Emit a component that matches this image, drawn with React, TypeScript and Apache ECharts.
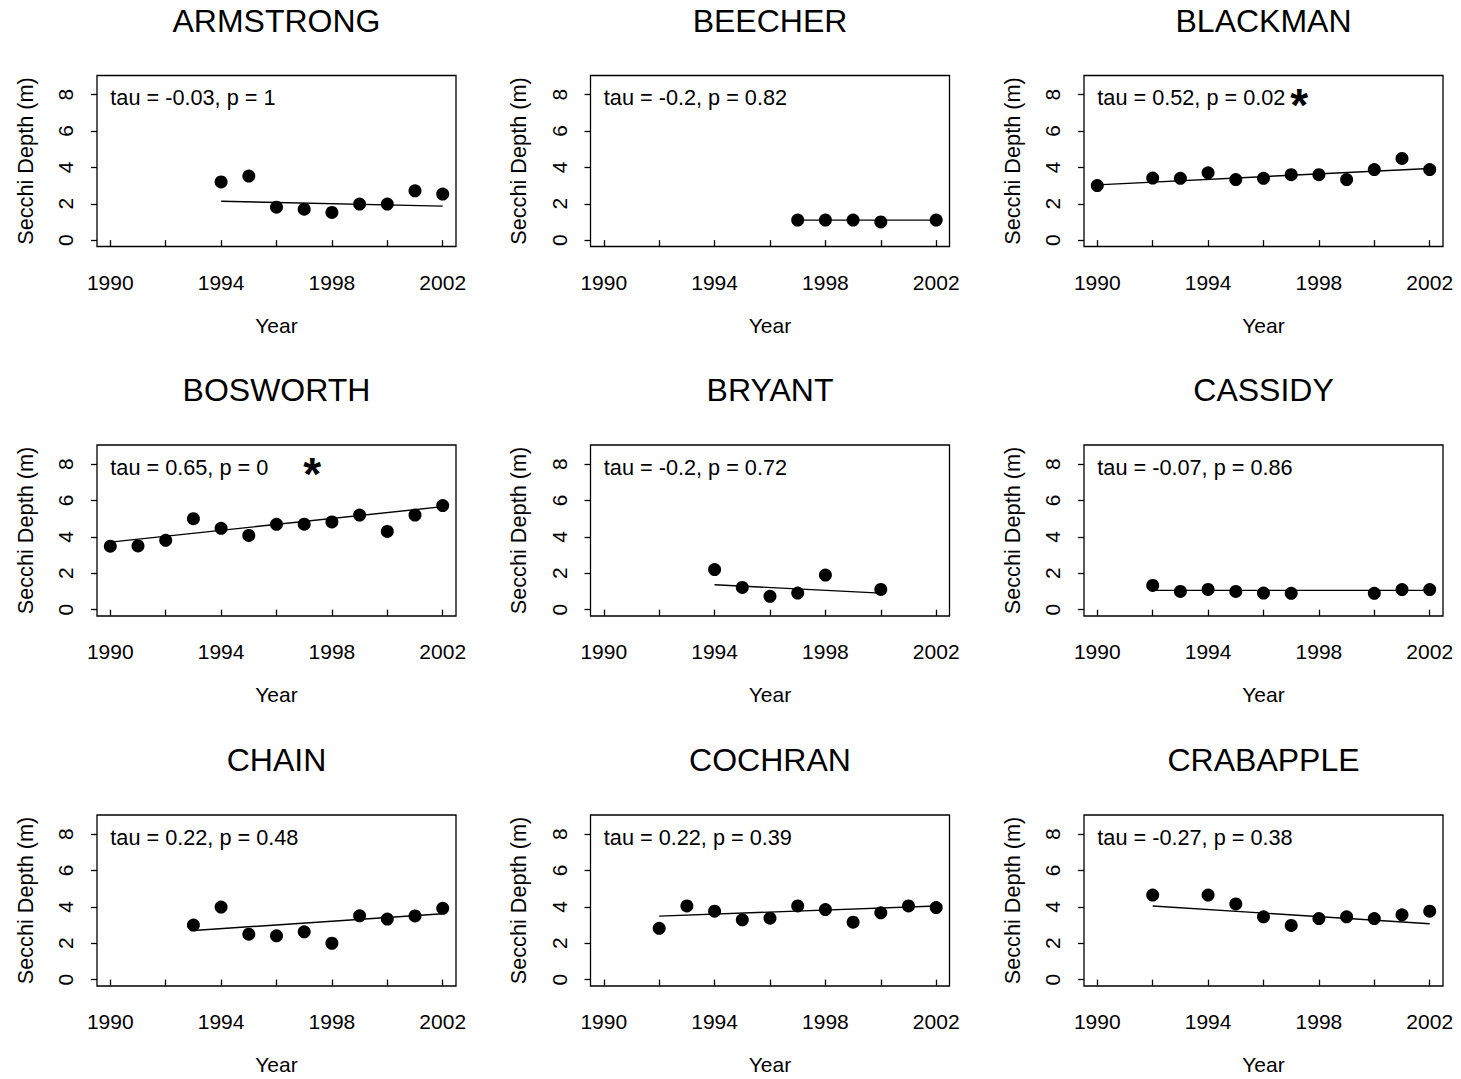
import React, { useEffect, useRef } from "react";
import * as echarts from "echarts";

const lakeNames = ["ARMSTRONG", "BEECHER", "BLACKMAN", "BOSWORTH", "BRYANT", "CASSIDY", "CHAIN", "COCHRAN", "CRABAPPLE"];
const tauLabels = [
  "tau = -0.03, p = 1",
  "tau = -0.2, p = 0.82",
  "tau = 0.52, p = 0.02",
  "tau = 0.65, p = 0",
  "tau = -0.2, p = 0.72",
  "tau = -0.07, p = 0.86",
  "tau = 0.22, p = 0.48",
  "tau = 0.22, p = 0.39",
  "tau = -0.27, p = 0.38",
];
const significant = [false, false, true, true, false, false, false, false, false];

const armstrongYears = [1994, 1995, 1996, 1997, 1998, 1999, 2000, 2001, 2002];
const armstrongDepth = [3.2, 3.52, 1.81, 1.7, 1.52, 1.98, 1.98, 2.71, 2.53];
const beecherYears = [1997, 1998, 1999, 2000, 2002];
const beecherDepth = [1.1, 1.1, 1.1, 1.0, 1.1];
const blackmanYears = [1990, 1992, 1993, 1994, 1995, 1996, 1997, 1998, 1999, 2000, 2001, 2002];
const blackmanDepth = [3.0, 3.41, 3.4, 3.7, 3.33, 3.4, 3.6, 3.6, 3.33, 3.88, 4.49, 3.88];
const bosworthYears = [1990, 1991, 1992, 1993, 1994, 1995, 1996, 1997, 1998, 1999, 2000, 2001, 2002];
const bosworthDepth = [3.49, 3.5, 3.81, 5.0, 4.47, 4.08, 4.69, 4.7, 4.82, 5.2, 4.3, 5.2, 5.72];
const bryantYears = [1994, 1995, 1996, 1997, 1998, 2000];
const bryantDepth = [2.2, 1.22, 0.73, 0.91, 1.9, 1.11];
const cassidyYears = [1992, 1993, 1994, 1995, 1996, 1997, 2000, 2001, 2002];
const cassidyDepth = [1.33, 1.0, 1.11, 1.0, 0.91, 0.9, 0.9, 1.1, 1.1];
const chainYears = [1993, 1994, 1995, 1996, 1997, 1998, 1999, 2000, 2001, 2002];
const chainDepth = [3.0, 3.99, 2.5, 2.41, 2.63, 2.0, 3.51, 3.33, 3.5, 3.92];
const cochranYears = [1992, 1993, 1994, 1995, 1996, 1997, 1998, 1999, 2000, 2001, 2002];
const cochranDepth = [2.82, 4.05, 3.76, 3.29, 3.38, 4.05, 3.85, 3.16, 3.67, 4.05, 3.96];
const crabappleYears = [1992, 1994, 1995, 1996, 1997, 1998, 1999, 2000, 2001, 2002];
const crabappleDepth = [4.65, 4.65, 4.16, 3.45, 2.98, 3.36, 3.45, 3.36, 3.56, 3.76];

const lakeYears = [armstrongYears, beecherYears, blackmanYears, bosworthYears, bryantYears, cassidyYears, chainYears, cochranYears, crabappleYears];
const lakeDepths = [armstrongDepth, beecherDepth, blackmanDepth, bosworthDepth, bryantDepth, cassidyDepth, chainDepth, cochranDepth, crabappleDepth];

// Sen-slope trend line depth at first and last sampled year
const trendStartDepth = [2.14, 1.1, 3.04, 3.71, 1.37, 1.06, 2.7, 3.49, 4.05];
const trendEndDepth = [1.87, 1.1, 3.94, 5.66, 0.91, 1.06, 3.62, 4.05, 3.07];

const xTickYears = [1990, 1992, 1994, 1996, 1998, 2000, 2002];
const xLabelYears = [1990, 1994, 1998, 2002];
const yTicks = [0, 2, 4, 6, 8];

const FONT = "'Liberation Sans', Arial, Helvetica, sans-serif";
const YEAR_MIN = 1989.52;
const YEAR_MAX = 2002.48;
const DEPTH_MIN = -0.35;
const DEPTH_MAX = 9.05;

const colLeft = [97, 590.5, 1084];
const rowTop = [75.5, 445, 815];
const BOX_W = 359;
const BOX_H = 171;

export default function App() {
  const ref = useRef<HTMLDivElement>(null);

  useEffect(() => {
    if (!ref.current) return;
    const chart = echarts.init(ref.current, undefined, { renderer: "svg" });

    const grids: any[] = [];
    const xAxes: any[] = [];
    const yAxes: any[] = [];
    const series: any[] = [];
    const graphics: any[] = [];

    lakeNames.forEach((name, i) => {
      const c = i % 3;
      const r = Math.floor(i / 3);
      const left = colLeft[c];
      const top = rowTop[r];
      grids.push({
        left,
        top,
        width: BOX_W,
        height: BOX_H,
        show: true,
        borderColor: "#000",
        borderWidth: 1.3,
        backgroundColor: "transparent",
      });
      xAxes.push({
        type: "value",
        gridIndex: i,
        min: YEAR_MIN,
        max: YEAR_MAX,
        axisLine: { show: false },
        splitLine: { show: false },
        axisTick: { show: true, length: 6, customValues: xTickYears, lineStyle: { color: "#000", width: 1.3 } },
        axisLabel: {
          customValues: xLabelYears,
          margin: 25,
          color: "#000",
          fontSize: 21,
          fontFamily: FONT,
          formatter: (v: number) => String(Math.round(v)),
        },
        name: "Year",
        nameLocation: "middle",
        nameGap: 68,
        nameTextStyle: { color: "#000", fontSize: 21, fontFamily: FONT },
      });
      yAxes.push({
        type: "value",
        gridIndex: i,
        min: DEPTH_MIN,
        max: DEPTH_MAX,
        axisLine: { show: false },
        splitLine: { show: false },
        axisTick: { show: true, length: 6, customValues: yTicks, lineStyle: { color: "#000", width: 1.3 } },
        axisLabel: {
          customValues: yTicks,
          rotate: 90,
          margin: 21,
          color: "#000",
          fontSize: 21,
          fontFamily: FONT,
          formatter: (v: number) => String(Math.round(v)),
        },
        name: "Secchi Depth (m)",
        nameLocation: "middle",
        nameGap: 61,
        nameTextStyle: { color: "#000", fontSize: 21.7, fontFamily: FONT },
      });

      const years = lakeYears[i];
      const depths = lakeDepths[i];
      series.push({
        type: "line",
        xAxisIndex: i,
        yAxisIndex: i,
        data: [
          [years[0], trendStartDepth[i]],
          [years[years.length - 1], trendEndDepth[i]],
        ],
        symbol: "none",
        silent: true,
        lineStyle: { color: "#000", width: 1.4 },
      });
      series.push({
        type: "scatter",
        xAxisIndex: i,
        yAxisIndex: i,
        data: years.map((y, k) => [y, depths[k]]),
        symbolSize: 13,
        silent: true,
        itemStyle: { color: "#000", opacity: 1 },
      });
      series.push({
        type: "scatter",
        xAxisIndex: i,
        yAxisIndex: i,
        data: [[1990, 8]],
        symbolSize: 0,
        silent: true,
        itemStyle: { color: "#000", opacity: 1 },
        label: {
          show: true,
          position: "right",
          distance: 0,
          offset: [0, 3],
          formatter: tauLabels[i],
          color: "#000",
          opacity: 1,
          fontSize: 21.7,
          fontFamily: FONT,
        },
      });
      if (significant[i]) {
        series.push({
          type: "scatter",
          xAxisIndex: i,
          yAxisIndex: i,
          data: [[1997, 8]],
          symbolSize: 0,
          silent: true,
          itemStyle: { color: "#000", opacity: 1 },
          label: {
            show: true,
            position: "right",
            distance: 0,
            offset: [-1, 10],
            formatter: "*",
            color: "#000",
            opacity: 1,
            fontSize: 46,
            fontWeight: "bold",
            fontFamily: FONT,
          },
        });
      }
      graphics.push({
        type: "text",
        x: left + BOX_W / 2,
        y: top - 55,
        style: {
          text: name,
          fill: "#000",
          fontSize: 32,
          fontFamily: FONT,
          align: "center",
          verticalAlign: "middle",
        },
      });
    });

    chart.setOption({
      animation: false,
      backgroundColor: "#fff",
      grid: grids,
      xAxis: xAxes,
      yAxis: yAxes,
      series,
      graphic: graphics,
    });

    return () => chart.dispose();
  }, []);

  return (
    <div
      ref={ref}
      style={{ position: "absolute", left: 0, top: 0, width: 1461, height: 1079, background: "#fff" }}
    />
  );
}
